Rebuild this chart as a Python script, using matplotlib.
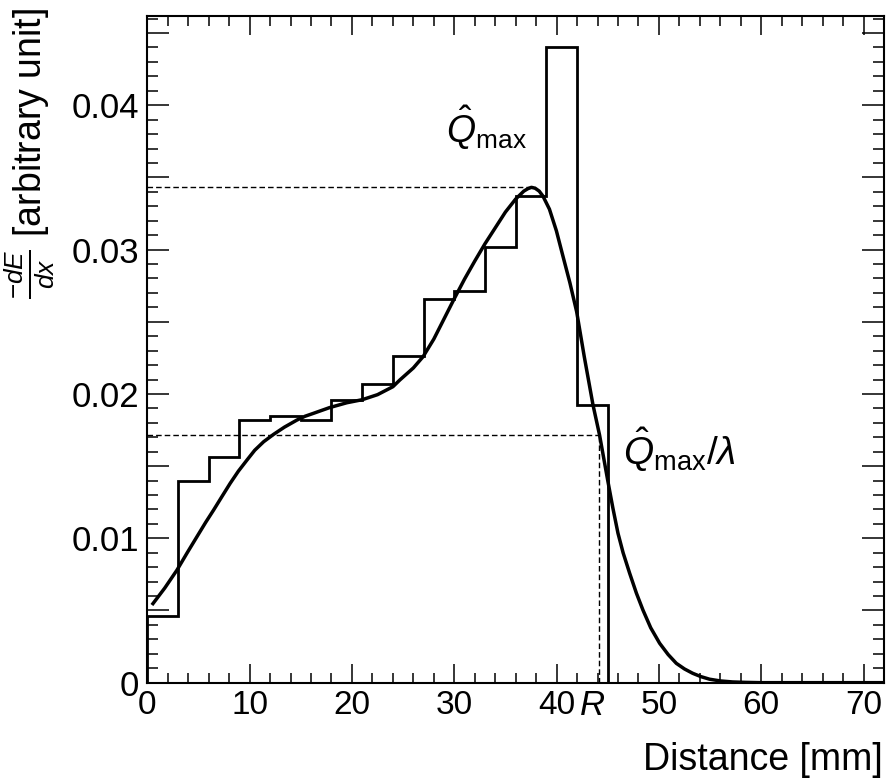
import matplotlib
matplotlib.use('Agg')
import matplotlib.pyplot as plt
import matplotlib.transforms as mtransforms
from matplotlib.ticker import MultipleLocator, FixedLocator, FuncFormatter

plt.rcParams['font.family'] = ['Liberation Sans', 'DejaVu Sans']
plt.rcParams['mathtext.fontset'] = 'custom'
plt.rcParams['mathtext.rm'] = 'Liberation Sans'
plt.rcParams['mathtext.it'] = 'Liberation Sans:italic'
plt.rcParams['mathtext.bf'] = 'Liberation Sans:bold'

# ---------------- data ----------------
bin_edges = [0, 3, 6, 9, 12, 15, 18, 21, 24, 27, 30, 33, 36, 39, 42, 45]
hist_values = [0.0046, 0.0140, 0.0156, 0.0182, 0.0185, 0.0182, 0.0196, 0.0207,
               0.0226, 0.0266, 0.0271, 0.0302, 0.0337, 0.0440, 0.0192]

fit_x = [0.45, 1.7, 2.9, 3.9, 4.85, 5.7, 6.48, 7.3, 8.1, 8.9, 9.74, 10.5, 11.37,
         12.34, 13.4, 14.62, 15.4, 16.25, 17.8, 19.5, 21.0, 22.5, 24.0, 24.67,
         26.0, 26.95, 28.0, 29.0, 30.0, 31.0, 32.0, 33.0, 34.0, 35.0, 36.0, 36.8,
         37.2, 37.54, 37.9, 38.3, 38.67, 39.3, 39.98, 40.6, 41.3, 41.96, 42.7,
         43.56, 44.2, 45.0, 45.5, 46.0, 46.5, 47.14, 47.8, 48.44, 49.2, 50.07,
         50.9, 51.7, 52.5, 53.3, 54.1, 54.95, 56.0, 57.2, 58.5, 60.0, 66.0, 72.0]
fit_y = [5.38, 6.55, 7.80, 9.0, 10.11, 11.1, 11.96, 12.9, 13.81, 14.65, 15.42, 16.1, 16.69,
         17.2, 17.7, 18.19, 18.45, 18.66, 19.05, 19.39, 19.6, 19.95, 20.5, 20.96,
         21.8, 22.58, 23.8, 25.2, 26.6, 27.95, 29.2, 30.4, 31.5, 32.6, 33.5, 34.05,
         34.22, 34.31, 34.25, 34.05, 33.7, 32.8, 31.3, 29.6, 27.7, 25.7, 22.6,
         19.23, 17.15, 14.0, 12.1, 10.35, 9.0, 7.58, 6.2, 5.03, 3.8, 2.73,
         1.95, 1.34, 0.95, 0.65, 0.42, 0.24, 0.12, 0.05, 0.02, 0.0, 0.0, 0.0]
fit_y = [v * 1e-3 for v in fit_y]

q_max = 0.0343
q_max_over_lambda = 0.01715
peak_x = 37.9
range_R = 44.1

x_major_ticks = [0, 10, 20, 30, 40, 50, 60, 70]
y_label_values = [0.0, 0.01, 0.02, 0.03, 0.04]

# ---------------- figure ----------------
fig = plt.figure(figsize=(8.89, 7.81), dpi=100)
ax = fig.add_axes([0.1657, 0.1259, 0.8287, 0.854])

ax.stairs(hist_values, bin_edges, baseline=0, fill=False, color='black', lw=2.0)
ax.plot(fit_x, fit_y, color='black', lw=2.5, solid_joinstyle='round', solid_capstyle='butt')

dash = (0, (4.0, 2.2))
ax.plot([0, peak_x], [q_max, q_max], color='black', lw=1.0, linestyle=dash)
ax.plot([0, range_R], [q_max_over_lambda, q_max_over_lambda], color='black', lw=1.0, linestyle=dash)
ax.plot([range_R, range_R], [0, q_max_over_lambda], color='black', lw=1.0, linestyle=dash)

ax.set_xlim(0, 72)
ax.set_ylim(0, 0.0462)

for s in ax.spines.values():
    s.set_linewidth(1.5)

ax.xaxis.set_major_locator(FixedLocator(x_major_ticks))
ax.xaxis.set_minor_locator(MultipleLocator(2))
ax.yaxis.set_major_locator(MultipleLocator(0.005))
ax.yaxis.set_minor_locator(MultipleLocator(0.001))


def yfmt(v, pos):
    for lv in y_label_values:
        if abs(v - lv) < 1e-6:
            return '0' if lv == 0 else f'{lv:.2f}'
    return ''


ax.yaxis.set_major_formatter(FuncFormatter(yfmt))

ax.tick_params(axis='both', which='both', direction='in', top=True, right=True, colors='black')
ax.tick_params(axis='x', which='major', length=14, width=1.1, labelsize=24, pad=5)
ax.tick_params(axis='x', which='minor', length=7, width=1.1)
ax.tick_params(axis='y', which='major', length=16, width=1.1, labelsize=25, pad=6)
ax.tick_params(axis='y', which='minor', length=8, width=1.1)

# annotations
ax.text(29.2, 0.0374, r'$\hat{Q}_{\mathrm{max}}$', fontsize=27, ha='left', va='baseline')
ax.text(46.5, 0.01508, r'$\hat{Q}_{\mathrm{max}}/\lambda$', fontsize=28, ha='left', va='baseline')
trans = mtransforms.blended_transform_factory(ax.transData, ax.transAxes)
ax.text(43.5, -0.010, 'R', fontsize=25, style='italic', ha='center', va='top', transform=trans)

fig.text(883 / 889, 1 - 760 / 781, 'Distance [mm]', fontsize=27, ha='right', va='center')
fig.text(30 / 889, 1 - 153 / 781, r'$\frac{-dE}{dx}$ [arbitrary unit]', fontsize=27,
         rotation=90, ha='center', va='center')

fig.savefig('out.png', dpi=100)
